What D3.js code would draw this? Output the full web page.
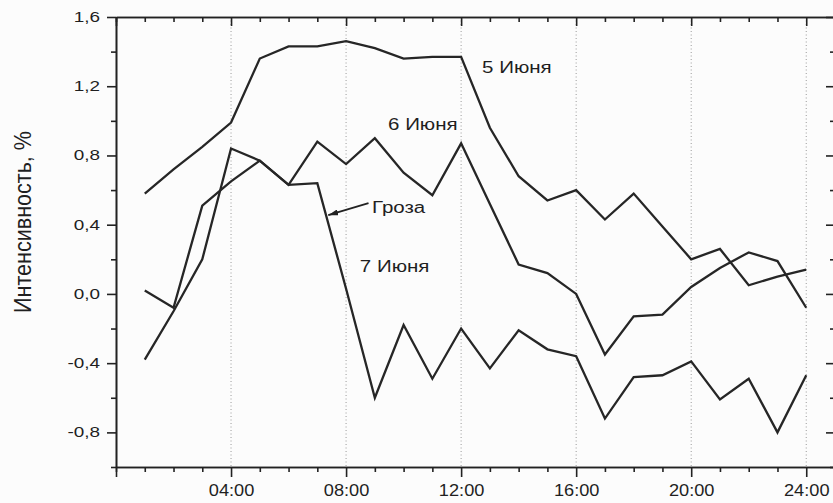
<!DOCTYPE html>
<html>
<head>
<meta charset="utf-8">
<style>
  body { margin: 0; background: #fff; }
  #chart { display: block; background: #fcfcfc; }
  #chart text { font-family: Arial, "Liberation Sans", sans-serif; fill: #1f1f1f; }
  #chart .domain, #chart .tick line { stroke: #222; stroke-width: 1.6; }
  .line { fill: none; stroke: #262626; stroke-width: 2.3; stroke-linejoin: miter; }
  .grid line { stroke: #9a9a9a; stroke-width: 1; stroke-dasharray: 1,2.5; }
</style>
<script src="https://d3js.org/d3.v7.min.js"></script>
</head>
<body>
<svg id="chart"></svg>
<script>
// hours of the day (x), one reading per hour
var hours = [1, 2, 3, 4, 5, 6, 7, 8, 9, 10, 11, 12, 13, 14, 15, 16, 17, 18, 19, 20, 21, 22, 23, 24];

var june5 = [0.58, 0.72, 0.85, 0.99, 1.36, 1.43, 1.43, 1.46, 1.42, 1.36, 1.37, 1.37,
             0.96, 0.68, 0.54, 0.60, 0.43, 0.58, 0.39, 0.20, 0.26, 0.05, 0.10, 0.14];
var june6 = [0.02, -0.08, 0.51, 0.65, 0.77, 0.63, 0.88, 0.75, 0.90, 0.70, 0.57, 0.87,
             0.52, 0.17, 0.12, 0.00, -0.35, -0.13, -0.12, 0.04, 0.15, 0.24, 0.19, -0.08];
var june7 = [-0.38, -0.10, 0.20, 0.84, 0.77, 0.63, 0.64, 0.03, -0.60, -0.18, -0.49, -0.20,
             -0.43, -0.21, -0.32, -0.36, -0.72, -0.48, -0.47, -0.39, -0.61, -0.49, -0.80, -0.47];

var seriesNames = ["5 Июня", "6 Июня", "7 Июня"];

var xMinorTicks = [0, 1, 2, 3, 5, 6, 7, 9, 10, 11, 13, 14, 15, 17, 18, 19, 21, 22, 23, 25];
var xMajorTicks = [0, 4, 8, 12, 16, 20, 24];
var xTickLabels = ["", "04:00", "08:00", "12:00", "16:00", "20:00", "24:00"];
var yMajorTicks = [-0.8, -0.4, 0.0, 0.4, 0.8, 1.2, 1.6];
var yMinorTicks = [-1.0, -0.6, -0.2, 0.2, 0.6, 1.0, 1.4];
var yTickLabels = ["-0,8", "-0,4", "0,0", "0,4", "0,8", "1,2", "1,6"];

var width = 833,
    height = 503;

var x = d3.scaleLinear().domain([0, 25]).range([116, 835]);
var y = d3.scaleLinear().domain([-1.0, 1.6]).range([467, 17]);

var svg = d3.select("#chart")
    .attr("width", width)
    .attr("height", height);

// stretch text horizontally, the scan is a bit wide
function stretch(sel, k) {
  sel.each(function() {
    var w = this.getComputedTextLength();
    d3.select(this).attr("textLength", w * k).attr("lengthAdjust", "spacingAndGlyphs");
  });
}

// dotted verticals at every 4 hours
svg.append("g")
    .attr("class", "grid")
  .selectAll("line")
    .data(xMajorTicks.slice(1))
  .enter().append("line")
    .attr("x1", function(d) { return x(d); })
    .attr("x2", function(d) { return x(d); })
    .attr("y1", y(1.6))
    .attr("y2", y(-1.0));

// bottom axis
svg.append("g")
    .attr("transform", "translate(0," + y(-1.0) + ")")
    .call(d3.axisBottom(x).tickValues(xMinorTicks).tickSize(5).tickSizeOuter(0).tickFormat(""));
var xb = svg.append("g")
    .attr("transform", "translate(0," + y(-1.0) + ")")
    .call(d3.axisBottom(x).tickValues(xMajorTicks).tickSize(10).tickSizeOuter(0).tickPadding(7)
      .tickFormat(function(d, i) { return xTickLabels[i]; }));
xb.selectAll("text").style("font-size", "17px").call(stretch, 1.07);

// top axis, ticks inward
svg.append("g")
    .attr("transform", "translate(0," + y(1.6) + ")")
    .call(d3.axisTop(x).tickValues(xMinorTicks).tickSize(-5).tickSizeOuter(0).tickFormat(""));
svg.append("g")
    .attr("transform", "translate(0," + y(1.6) + ")")
    .call(d3.axisTop(x).tickValues(xMajorTicks).tickSize(-9).tickSizeOuter(0).tickFormat(""));

// left axis
svg.append("g")
    .attr("transform", "translate(" + x(0) + ",0)")
    .call(d3.axisLeft(y).tickValues(yMinorTicks).tickSize(5).tickSizeOuter(0).tickFormat(""));
var yl = svg.append("g")
    .attr("transform", "translate(" + x(0) + ",0)")
    .call(d3.axisLeft(y).tickValues(yMajorTicks).tickSize(9).tickSizeOuter(0).tickPadding(7)
      .tickFormat(function(d, i) { return yTickLabels[i]; }));
yl.selectAll("text").style("font-size", "14px").call(stretch, 1.35);

// right axis, ticks inward
svg.append("g")
    .attr("transform", "translate(" + x(25) + ",0)")
    .call(d3.axisRight(y).tickValues(yMinorTicks).tickSize(-5).tickSizeOuter(0).tickFormat(""));
svg.append("g")
    .attr("transform", "translate(" + x(25) + ",0)")
    .call(d3.axisRight(y).tickValues(yMajorTicks).tickSize(-9).tickSizeOuter(0).tickFormat(""));

svg.selectAll(".tick text").attr("fill", "#1f1f1f");

// y label
svg.append("text")
    .attr("transform", "translate(31," + 222 + ") rotate(-90)")
    .attr("text-anchor", "middle")
    .style("font-size", "24px")
    .attr("textLength", 182)
    .attr("lengthAdjust", "spacingAndGlyphs")
    .text("Интенсивность, %");

// lines
var line = d3.line()
    .x(function(d, i) { return x(hours[i]); })
    .y(function(d) { return y(d); });

svg.selectAll(".line")
    .data([june5, june6, june7])
  .enter().append("path")
    .attr("class", "line")
    .attr("d", line);

// labels on the curves
var labels = [
  { text: seriesNames[0], h: 12.73, v: 1.276 },
  { text: seriesNames[1], h: 9.46, v: 0.947 },
  { text: "Гроза",        h: 8.90, v: 0.468 },
  { text: seriesNames[2], h: 8.48, v: 0.127 }
];
svg.selectAll(".lbl")
    .data(labels)
  .enter().append("text")
    .attr("class", "lbl")
    .attr("x", function(d) { return x(d.h); })
    .attr("y", function(d) { return y(d.v); })
    .style("font-size", "16px")
    .text(function(d) { return d.text; })
    .call(stretch, 1.28);

// arrow to the storm
svg.append("defs").append("marker")
    .attr("id", "head")
    .attr("viewBox", "0 0 10 6")
    .attr("refX", 10)
    .attr("refY", 3)
    .attr("markerWidth", 10)
    .attr("markerHeight", 6)
    .attr("markerUnits", "userSpaceOnUse")
    .attr("orient", "auto")
  .append("path")
    .attr("d", "M0,0L10,3L0,6Z")
    .attr("fill", "#222");

svg.append("line")
    .attr("x1", x(8.78))
    .attr("y1", y(0.525))
    .attr("x2", x(7.38))
    .attr("y2", y(0.455))
    .attr("stroke", "#222")
    .attr("stroke-width", 1.8)
    .attr("marker-end", "url(#head)");
</script>
</body>
</html>
